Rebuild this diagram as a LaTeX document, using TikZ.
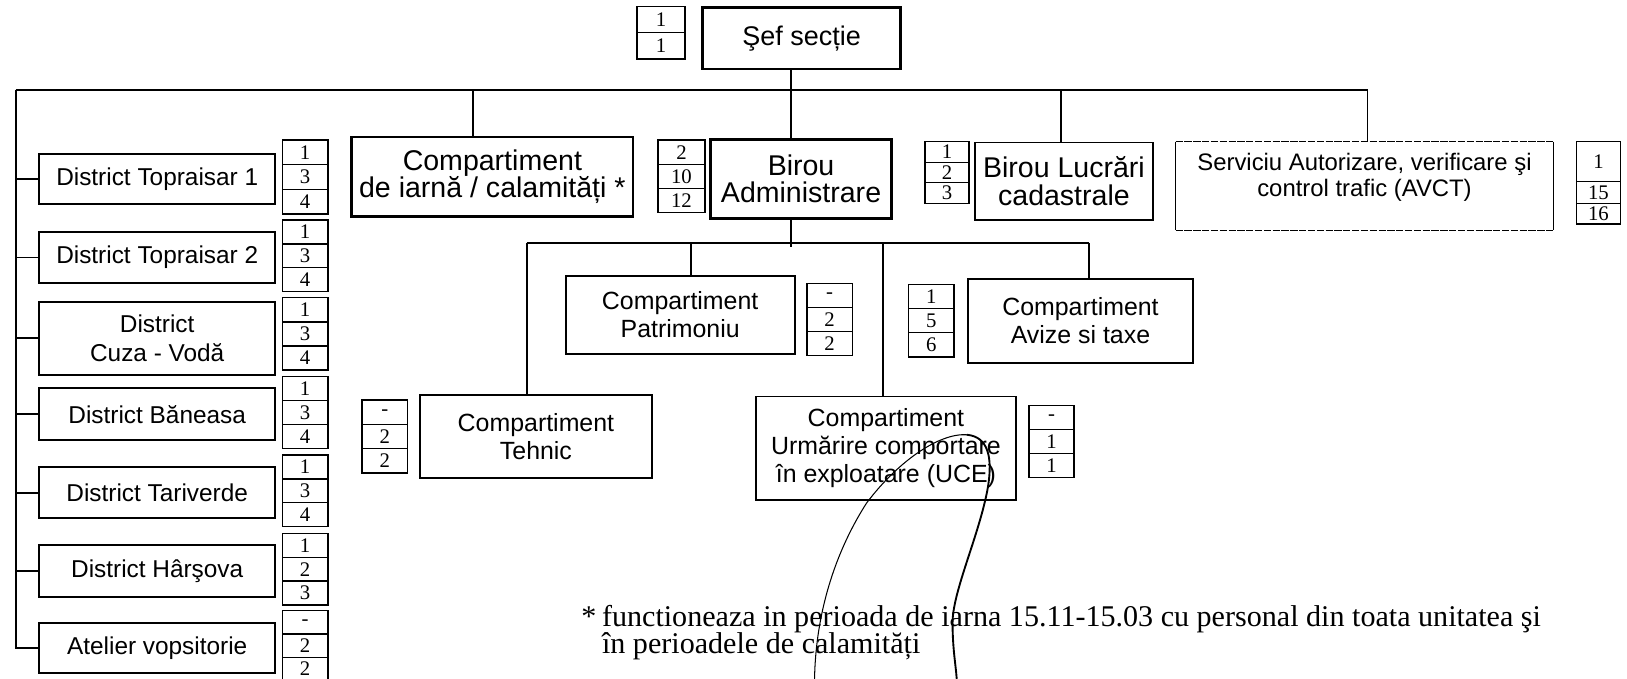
\documentclass[tikz,border=0pt]{standalone}
\usepackage{fontspec}
\setmainfont{Liberation Serif}
\setsansfont{Liberation Sans}
\newcommand\numcells[8]{%
  \pgfmathsetmacro\nya{#4+#5}%
  \pgfmathsetmacro\nyb{#4+2*#5}%
  \pgfmathsetmacro\nyc{#4+3*#5}%
  \node[cell, rect=#2/#4/#3/\nya] (#1-1) {#6};
  \node[cell, rect=#2/\nya/#3/\nyb] (#1-2) {#7};
  \node[cell, rect=#2/\nyb/#3/\nyc] (#1-3) {#8};}
\begin{document}
\begin{tikzpicture}[x=1pt,y=-1pt,
  rect/.style args={#1/#2/#3/#4}{at={({(#1+#3)/2},{(#2+#4)/2})},
    minimum width={(#3-#1)*1pt}, minimum height={(#4-#2)*1pt}},
  box/.style={draw, line width=1.9pt, inner sep=0pt, outer sep=0pt, align=center,
    font=\sffamily\fontsize{24}{27}\selectfont},
  dbox/.style={box, font=\sffamily\fontsize{23.5}{28}\selectfont},
  hbox/.style={box, line width=2.8pt, font=\sffamily\fontsize{27.5}{26}\selectfont},
  cell/.style={draw, line width=1.3pt, inner sep=0pt, outer sep=0pt,
    font=\fontsize{20}{20}\selectfont},
  conn/.style={line width=1.9pt},
  note/.style={inner sep=0pt, font=\fontsize{29}{27}\selectfont}]
\useasboundingbox (0,0) rectangle (1568,654);
\fill[white] (0,0) rectangle (1568,654);

% top
\node[cell, rect=614/6.5/660/31.5] (s-1) {1};
\node[cell, rect=614/31.5/660/57] (s-2) {1};
\node[hbox, font=\sffamily\fontsize{26}{28}\selectfont, rect=677/7/868/66.5] (sef) {Şef secție};

% second level
\node[hbox, rect=339/132/610/209] (iarna) {Compartiment\\de iarnă / calamități *};
\numcells{ca}{634}{679.5}{135}{23.3}{2}{10}{12}
\node[hbox, rect=685/134.3/859/210.4] (admin) {Birou\\Administrare};
\numcells{cl}{891.5}{934}{136.5}{19.8}{1}{2}{3}
\node[box, line width=1.4pt, font=\sffamily\fontsize{27.5}{27}\selectfont,
  rect=939.7/137.5/1111/212] (lucr) {Birou Lucrări\\cadastrale};
\node[inner sep=0pt, outer sep=0pt, align=center, font=\sffamily\fontsize{23}{25}\selectfont,
  text depth=22pt, rect=1133/136.5/1497/222] (serv) {Serviciu Autorizare, verificare şi\\control trafic (AVCT)};
\draw[line width=1pt] (serv.north west) -- (serv.south west);
\draw[line width=1pt] (serv.north east) -- (serv.south east);
\draw[line width=0.9pt, dash pattern=on 7pt off 1.5pt] (serv.north west) -- (serv.north east);
\draw[line width=0.9pt, dash pattern=on 7pt off 1.5pt] (serv.south west) -- (serv.south east);
\node[cell, rect=1519/136.5/1562/175] (cs-1) {1};
\node[cell, rect=1519/175/1562/196] (cs-2) {15};
\node[cell, rect=1519/196/1562/216] (cs-3) {16};

% third level
\node[box, rect=545/266/766/341] (patr) {Compartiment\\Patrimoniu};
\numcells{cp}{777.6}{821.5}{273}{23.3}{-}{2}{2}
\numcells{cv}{875.5}{919.5}{274}{23.3}{1}{5}{6}
\node[box, rect=932.6/269/1150/349.5] (avize) {Compartiment\\Avize si taxe};
\numcells{ct}{348.7}{393}{385.5}{23.5}{-}{2}{2}
\node[box, rect=405/381/628/461] (tehnic) {Compartiment\\Tehnic};
\node[box, line width=1.5pt, rect=728.6/382/979/482] (uce) {Compartiment\\Urmărire comportare\\în exploatare (UCE)};
\numcells{cu}{991.7}{1035}{391}{23}{-}{1}{1}

% districts
\node[dbox, rect=38/148.4/265/196.6] (d1) {District Topraisar 1};
\numcells{n1}{272}{316}{135}{23.7}{1}{3}{4}
\node[dbox, rect=38/223.3/265/273] (d2) {District Topraisar 2};
\numcells{n2}{272}{316}{212}{23}{1}{3}{4}
\node[dbox, rect=38/290.7/265/361.4] (d3) {District\\Cuza - Vodă};
\numcells{n3}{272}{316}{287}{23.2}{1}{3}{4}
\node[dbox, rect=38/374.3/265/424] (d4) {District Băneasa};
\numcells{n4}{272}{316}{363}{23}{1}{3}{4}
\node[dbox, rect=38/449.8/265/499.5] (d5) {District Tariverde};
\numcells{n5}{272}{316}{438.5}{23}{1}{3}{4}
\node[dbox, rect=38/525.3/265/575] (d6) {District Hârşova};
\numcells{n6}{272}{316}{514}{23}{1}{2}{3}
\node[dbox, rect=38/600/265/649] (d7) {Atelier vopsitorie};
\numcells{n7}{272}{316}{588.6}{22.5}{-}{2}{2}

% connectors
\coordinate (L) at (15,87);
\coordinate (R) at (1318,87);
\coordinate (S) at (762,87);
\coordinate (I) at (456,87);
\coordinate (B) at (1022.5,87);
\draw[conn] (L) -- (R);
\draw[conn] (L) |- (d7.west);
\foreach \i in {1,...,6} \draw[conn] (d\i.west) -- (d\i.west -| L);
\draw[conn] (sef.south -| S) -- (admin.north -| S);
\draw[conn] (I) -- (iarna.north -| I);
\draw[conn] (B) -- (lucr.north -| B);
\draw[line width=1.3pt] (R) -- (serv.north -| R);

\coordinate (H1) at (507.5,234);
\coordinate (H2) at (665.5,234);
\coordinate (H3) at (851,234);
\coordinate (H4) at (1049.6,234);
\draw[conn] (admin.south -| S) -- (762,238);
\draw[conn] (H1) -- (H4);
\draw[conn] (H1) -- (tehnic.north -| H1);
\draw[conn] (H2) -- (patr.north -| H2);
\draw[conn] (H3) -- (uce.north -| H3);
\draw[conn] (H4) -- (avize.north -| H4);

% footnote
\node[note, anchor=base east] (star) at (575,604) {*};
\node[note, anchor=base west] (fn1) at (580,604) {functioneaza in perioada de iarna 15.11-15.03 cu personal din toata unitatea şi};
\node[note, anchor=base west] (fn2) at (580,630) {în perioadele de calamități};

% signature
\draw[line width=1pt, line cap=round] (785,654) .. controls (786,600) and (800,540) .. (835,485)
  .. controls (865,445) and (905,417) .. (932,419);
\draw[line width=1.8pt, line cap=round] (932,419) .. controls (952,421) and (957,440) .. (952,470)
  .. controls (944,515) and (918,570) .. (918,600) .. controls (918,625) and (921,640) .. (922,654);
\end{tikzpicture}
\end{document}
